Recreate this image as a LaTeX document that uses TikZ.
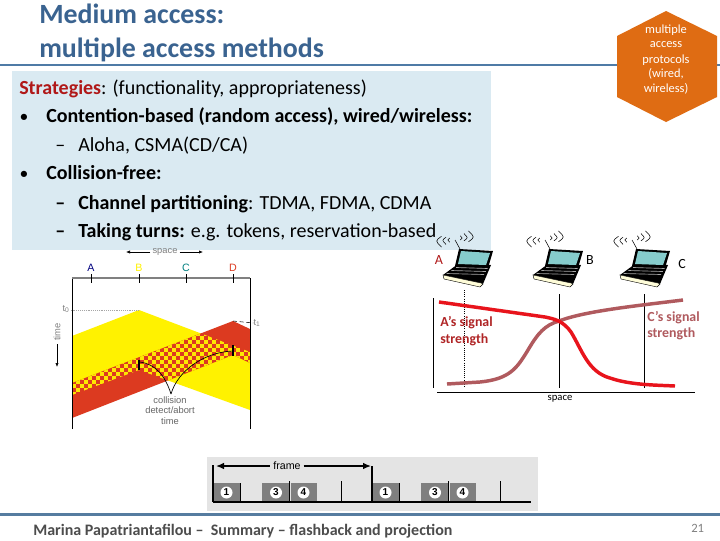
\documentclass[tikz,border=0pt]{standalone}
\usepackage{fontspec}
\setmainfont{Carlito}
\newfontfamily\figsans{Liberation Sans}
\usetikzlibrary{arrows.meta, positioning, calc}
\definecolor{ruleblue}{HTML}{4F7BA6}
\definecolor{titleblue}{HTML}{3A6390}
\definecolor{boxblue}{HTML}{DAEAF2}
\definecolor{hexorange}{HTML}{DF6C13}
\definecolor{csmared}{HTML}{DC3A20}
\definecolor{darkred}{HTML}{B01818}
\definecolor{mauve}{HTML}{B05A5E}
\definecolor{sigred}{HTML}{E8141C}
\definecolor{slotgray}{HTML}{7F7F7F}
\definecolor{panelgray}{HTML}{E4E4E4}
\definecolor{screenteal}{HTML}{86CCCC}
\newcommand{\yellowzone}{(72,336) -- (139,310) -- (250,352) -- (250,410) -- (139,370) -- (72,395) -- cycle}
\newcommand{\redzone}{(72,383) -- (233,321) -- (250,329) -- (250,363) -- (233,355) -- (72,418) -- cycle}
\tikzset{
    laptop/.pic={
        \fill[black] (0,28) -- (15,17) -- (48,18) -- (40,37) -- cycle;
        \fill[yellow!15!white, draw=black, line width=.3pt] (0,28) -- (38,36) -- (40,37) -- (37,40) -- (1,32) -- cycle;
        \fill[black] (16,2) -- (50,4) -- (45,21) -- (12,19) -- cycle;
        \fill[screenteal] (18,4) -- (47,6) -- (43,18) -- (15,17) -- cycle;
        \foreach \r in {20.5,23.5,26.5}
            \draw[gray!70, line width=.5pt] ({14-(\r-20)*1.6},\r) -- ({45-(\r-20)*.6},{\r+1});
        \draw[line width=.4pt] (12,-7) -- (17,2);
        \foreach \r in {7,12,18} {
            \draw[line width=.4pt] ({12-.75*\r},{-8-.15*\r}) .. controls ({12-1.1*\r},{-8+.1*\r}) .. ({12-.75*\r},{-8+.45*\r});
            \draw[line width=.4pt] ({12+.75*\r},{-8-.45*\r}) .. controls ({12+1.1*\r},{-8-.1*\r}) .. ({12+.75*\r},{-8+.15*\r});
        }
    }
}
\begin{document}
\begin{tikzpicture}[
    x=0.75pt, y=-0.75pt,
    titletext/.style={anchor=base west, inner sep=0, font=\fontsize{20.9}{24}\selectfont\bfseries, text=titleblue},
    bodytext/.style={anchor=base west, inner sep=0, font=\fontsize{15}{18}\selectfont},
    hextext/.style={inner sep=0, text=white, font=\fontsize{9.3}{10}\selectfont},
    csmalabel/.style={inner sep=0, font=\figsans\fontsize{7}{8}\selectfont},
    sigtext/.style={anchor=base west, inner sep=0, font=\fontsize{10.4}{12}\selectfont\bfseries},
    sigline/.style={line width=.6pt},
    sigcurve/.style={line width=2.6pt},
    slot/.style={fill=slotgray},
    slotnum/.style={circle, fill=white, inner sep=0, minimum size=9pt, font=\figsans\fontsize{7.5}{8}\selectfont\bfseries},
    thinarrow/.style={-{Latex[length=3pt,width=2.5pt]}, line width=.5pt}
]
\useasboundingbox (0,0) rectangle (720,540);
\fill[white] (0,0) rectangle (720,540);

% header
\draw[ruleblue, line width=1.6pt] (0,65) -- (720,65);
\node[titletext] (title1) at (39,23) {Medium access:};
\node[titletext] (title2) at (39,57) {multiple access methods};
\fill[hexorange] (666,11) -- (717,36) -- (717,97) -- (666,122) -- (617,97) -- (617,36) -- cycle;
\node[hextext] (hex1) at (666,30) {multiple};
\node[hextext] (hex2) at (666,45) {access};
\node[hextext] (hex3) at (666,60) {protocols};
\node[hextext] (hex4) at (666,74) {(wired,};
\node[hextext] (hex5) at (666,89) {wireless)};

% strategies box
\fill[boxblue] (12,71) rectangle (491,250);
\node[bodytext] (strategies) at (19,94) {\textbf{\textcolor{darkred}{Strategies}}: (functionality, appropriateness)};
\node[bodytext, font=\fontsize{11}{12}\selectfont\bfseries] (bullet1) at (20,121) {•};
\node[bodytext] (contention) at (46,122) {\textbf{Contention-based (random access), wired/wireless:}};
\node[bodytext] (dash1) at (55,151) {–};
\node[bodytext] (aloha) at (78,151) {Aloha, CSMA(CD/CA)};
\node[bodytext, font=\fontsize{11}{12}\selectfont\bfseries] (bullet2) at (20,178) {•};
\node[bodytext] (collision) at (46,179) {\textbf{Collision-free:}};
\node[bodytext] (dash2) at (55,209) {\textbf{–}};
\node[bodytext] (channel) at (78,209) {\textbf{Channel partitioning}: TDMA, FDMA, CDMA};
\node[bodytext] (dash3) at (55,237) {\textbf{–}};
\node[bodytext] (turns) at (78,237) {\textbf{Taking turns:} e.g. tokens, reservation-based};

% csma/cd figure
\fill[yellow] \yellowzone;
\fill[csmared] \redzone;
\begin{scope}
    \clip \yellowzone;
    \clip \redzone;
    \foreach \i in {0,...,44}
        \foreach \j in {0,...,25} {
            \ifodd\numexpr\i+\j\relax\else
                \fill[yellow!90!orange] ({72+4*\i},{320+4*\j}) rectangle ++(4,4);
            \fi
        }
\end{scope}
\coordinate (frameTL) at (72,278);
\coordinate (frameTR) at (250,278);
\draw[black, line width=.7pt] (72,429) -- (frameTL);
\draw[black, line width=.7pt] (250,429) -- (frameTR);
\draw[gray, line width=1pt] (frameTL) -- (frameTR);
\foreach \tx/\tn/\tc in {91/A/blue!50!black, 139/B/yellow, 186/C/teal, 233/D/csmared} {
    \draw[line width=.6pt] (\tx,274) -- (\tx,283);
    \node[csmalabel, text=\tc, font=\figsans\fontsize{8}{9}\selectfont] (lab\tn) at (\tx,268) {\tn};
}
\node[csmalabel, text=gray] (spacetop) at (165,252) {space};
\coordinate (spaceL) at (126,252);
\coordinate (spaceR) at (203,252);
\draw[thinarrow] (spacetop.west) ++(-2,0) -- (spaceL);
\draw[thinarrow] (spacetop.east) ++(2,0) -- (spaceR);
\node[csmalabel, text=gray, rotate=90] (timelab) at (57,332) {time};
\coordinate (timeend) at (57,367);
\draw[thinarrow] (timelab.west) ++(0,3) -- (timeend);
\node[csmalabel, text=gray] (t0) at (66,309) {t\textsubscript{0}};
\node[csmalabel, text=gray] (t1) at (257,323) {t\textsubscript{1}};
\draw[gray!70, densely dotted, line width=.4pt] (t0.east) ++(1,1) -- (139,310);
\draw[densely dashed, line width=.4pt] (233,321) -- (t1.west);
\draw[line width=1.2pt] (139,360) -- (139,370);
\draw[line width=1.2pt] (233,345) -- (233,356);
\coordinate (vtip) at (171,394);
\draw[line width=.5pt] (140,362) .. controls (155,364) and (165,375) .. (vtip);
\draw[line width=.5pt] (vtip) .. controls (178,370) and (205,352) .. (233,351);
\node[csmalabel, text=gray!80!black] (col1) at (170,400) {collision};
\node[csmalabel, text=gray!80!black] (col2) at (170,410.5) {detect/abort};
\node[csmalabel, text=gray!80!black] (col3) at (170,421) {time};

% wireless figure
\pic (lapA) at (443,247) {laptop};
\pic (lapB) at (533,247) {laptop};
\pic (lapC) at (620,247) {laptop};
\node[inner sep=0, text=darkred, font=\fontsize{10.5}{12}\selectfont] (nodeA) at (439,260) {A};
\node[inner sep=0, font=\fontsize{10.5}{12}\selectfont] (nodeB) at (590,260) {B};
\node[inner sep=0, font=\fontsize{10.5}{12}\selectfont] (nodeC) at (682,264) {C};
\draw[sigline] (433,298) -- (433,388);
\draw[densely dotted, line width=.6pt] (464,290) -- (464,387);
\draw[sigline] (559,294) -- (559,388);
\draw[sigline] (644.5,294) -- (644.5,388);
\draw[sigline] (437,392) -- (695,392);
\draw[mauve, sigcurve] (447,384) -- (480,382) .. controls (510,379) and (517,368) .. (528,350) .. controls (538,333) and (545,325) .. (559,321) .. controls (585,311) and (635,306) .. (683,300);
\draw[sigred, sigcurve] (439,302) -- (545,317) .. controls (555,319) and (563,321) .. (571,332) .. controls (582,350) and (588,372) .. (610,378) .. controls (630,385) and (655,385) .. (675,386);
\node[sigtext, text=darkred!80!mauve] (sigA1) at (440,326) {A’s signal};
\node[sigtext, text=darkred!80!mauve] (sigA2) at (440,343) {strength};
\node[sigtext, text=mauve] (sigC1) at (647,321) {C’s signal};
\node[sigtext, text=mauve] (sigC2) at (647,337) {strength};
\node[inner sep=0, font=\fontsize{8}{9}\selectfont] (spacebot) at (560,399) {space};

% tdma figure
\fill[panelgray] (207,457) rectangle (538,511);
\foreach \fx/\fn in {213/a,372/b} {
    \begin{scope}[shift={(\fx,0)}]
        \fill[slot] (0,483) rectangle (27.3,502);
        \fill[slot] (49.3,483) rectangle (76,502);
        \fill[slot] (77.5,483) rectangle (104,502);
        \draw[line width=.7pt] (27.3,483) -- (27.3,503);
        \draw[line width=.7pt] (76,481) -- (76,502);
        \draw[line width=.7pt] (128.5,481) -- (128.5,502);
        \node[slotnum] (one\fn) at (13.5,492.5) {1};
        \node[slotnum] (three\fn) at (63,492.5) {3};
        \node[slotnum] (four\fn) at (90.5,492.5) {4};
    \end{scope}
}
\draw[line width=1.1pt] (213,502) -- (531,502);
\draw[line width=.8pt] (213,465) -- (213,502);
\draw[line width=.8pt] (372,466) -- (372,502);
\node[inner sep=2pt, font=\figsans\fontsize{8}{9}\selectfont] (framelab) at (287,466) {frame};
\coordinate (frameL) at (216,466);
\coordinate (frameR) at (371,466);
\draw[{Latex[length=6pt,width=5pt]}-, line width=1pt] (frameL) -- (framelab.west);
\draw[-{Latex[length=6pt,width=5pt]}, line width=1pt] (framelab.east) -- (frameR);

% footer
\draw[ruleblue!85!gray, line width=2.2pt] (0,514.5) -- (720,514.5);
\node[anchor=base west, inner sep=0, text=black!70, font=\fontsize{12}{14}\selectfont\bfseries] (footer) at (33,535) {Marina Papatriantafilou –\ \ Summary – flashback and projection};
\node[anchor=base west, inner sep=0, text=gray, font=\fontsize{9.5}{11}\selectfont] (pagenum) at (691,532) {21};
\end{tikzpicture}
\end{document}
